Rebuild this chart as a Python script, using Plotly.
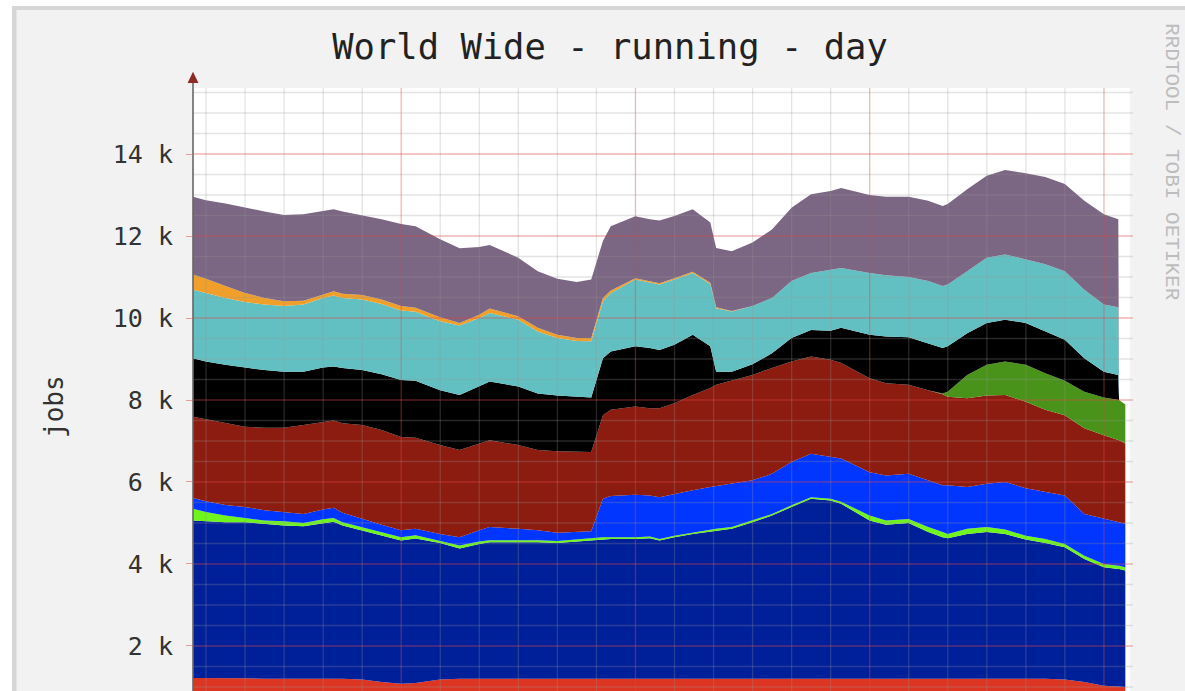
import plotly.graph_objects as go

# ---- data (hours from the left edge of the day graph, values in jobs) ----
hours = [0.0, 0.33, 0.83, 1.33, 1.83, 2.33, 2.83, 3.33, 3.6, 3.83, 4.33, 4.83, 5.33, 5.7,
         6.33, 6.83, 7.33, 7.6, 8.33, 8.83, 9.33, 9.83, 10.2, 10.5, 10.7, 11.33, 11.7, 11.95,
         12.33, 12.8, 13.25, 13.4, 13.8, 14.33, 14.83, 15.33, 15.83, 16.33, 16.6, 17.33, 17.75,
         18.33, 18.83, 19.2, 19.33, 19.83, 20.33, 20.8, 21.33, 21.83, 22.33, 22.83, 23.33,
         23.7, 23.72, 23.88]

red_base = [1220, 1220, 1210, 1210, 1200, 1200, 1200, 1200, 1200, 1200, 1180, 1120, 1080, 1100,
            1180, 1200, 1200, 1200, 1200, 1200, 1200, 1200, 1200, 1200, 1200, 1200, 1200, 1200,
            1200, 1200, 1200, 1200, 1200, 1200, 1200, 1200, 1200, 1200, 1200, 1200, 1200,
            1200, 1200, 1200, 1200, 1200, 1200, 1200, 1200, 1200, 1180, 1120, 1030,
            1000, 1000, 1000]

navy = [3840, 3820, 3810, 3810, 3780, 3740, 3720, 3800, 3830, 3740, 3640, 3570, 3490, 3520,
        3330, 3180, 3290, 3330, 3330, 3330, 3310, 3350, 3370, 3410, 3410, 3410, 3430, 3370,
        3450, 3530, 3590, 3620, 3660, 3820, 3980, 4190, 4390, 4350, 4270, 3860, 3760,
        3800, 3580, 3450, 3430, 3530, 3580, 3530, 3400, 3310, 3230, 3000, 2890,
        2880, 2880, 2840]

lime = [290, 230, 160, 100, 80, 100, 80, 90, 90, 80, 80, 90, 80, 80,
        60, 70, 60, 50, 50, 50, 50, 50, 50, 40, 40, 40, 40, 40,
        40, 40, 40, 40, 40, 40, 40, 40, 40, 40, 50, 120, 100,
        100, 120, 130, 100, 130, 120, 110, 90, 100, 80, 80, 80,
        80, 80, 80]

blue = [260, 260, 260, 270, 250, 230, 220, 240, 250, 230, 200, 180, 170, 160,
        160, 200, 270, 320, 280, 240, 200, 180, 180, 940, 1010, 1040, 1000, 1020,
        1020, 1030, 1050, 1040, 1060, 980, 980, 1060, 1060, 1020, 1050, 1060, 1100,
        1100, 1140, 1140, 1190, 1020, 1060, 1160, 1160, 1150, 1180, 1020, 1100,
        1060, 1060, 1060]

dark_red = [1980, 2000, 1990, 1960, 2010, 2050, 2170, 2140, 2130, 2180, 2290, 2310, 2280, 2220,
            2170, 2130, 2120, 2120, 2040, 1960, 1990, 1950, 1930, 2040, 2100, 2150, 2130, 2170,
            2210, 2320, 2410, 2470, 2510, 2570, 2580, 2450, 2370, 2370, 2330, 2290, 2250,
            2170, 2200, 2220, 2160, 2160, 2150, 2120, 2110, 2000, 1960, 2090, 2040,
            2000, 2000, 1960]

green = [0, 0, 0, 0, 0, 0, 0, 0, 0, 0, 0, 0, 0, 0,
         0, 0, 0, 0, 0, 0, 0, 0, 0, 0, 0, 0, 0, 0,
         0, 0, 0, 0, 0, 0, 0, 0, 0, 0, 0, 0, 0,
         0, 0, 20, 120, 570, 750, 820, 900, 890, 840, 890, 920,
         980, 980, 950]

black = [1430, 1410, 1430, 1440, 1410, 1370, 1300, 1320, 1320, 1350, 1340, 1360, 1390, 1390,
         1340, 1340, 1390, 1430, 1430, 1380, 1360, 1350, 1330, 1390, 1420, 1470, 1470, 1420,
         1430, 1470, 1020, 320, 220, 260, 360, 570, 650, 710, 860, 1060, 1140,
         1160, 1150, 1110, 1110, 1020, 1020, 1020, 1020, 1020, 1000, 820, 630,
         610, 0, 0]

teal = [1670, 1670, 1630, 1600, 1600, 1600, 1640, 1700, 1730, 1710, 1720, 1710, 1690, 1680,
        1680, 1700, 1670, 1670, 1630, 1510, 1400, 1360, 1370, 1390, 1430, 1630, 1590, 1600,
        1590, 1510, 1520, 1550, 1470, 1420, 1350, 1390, 1390, 1490, 1460, 1510, 1490,
        1470, 1510, 1510, 1510, 1510, 1590, 1590, 1550, 1640, 1670, 1670, 1640,
        1650, 0, 0]

orange = [370, 350, 290, 220, 160, 120, 90, 80, 100, 100, 110, 110, 110, 100,
          100, 60, 80, 110, 80, 90, 80, 70, 80, 80, 60, 30, 30, 30,
          30, 30, 30, 20, 10, 0, 0, 0, 0, 0, 0, 0, 0,
          0, 0, 0, 0, 0, 0, 0, 0, 0, 0, 0, 0,
          0, 0, 0]

purple = [1900, 1910, 2010, 2080, 2110, 2100, 2110, 2040, 2000, 2010, 1950, 1960, 2000, 1990,
          1900, 1820, 1650, 1550, 1430, 1380, 1370, 1370, 1430, 1390, 1570, 1510, 1520, 1530,
          1520, 1520, 1470, 1450, 1460, 1550, 1670, 1790, 1920, 1920, 1950, 1900, 1920,
          1960, 1960, 1950, 1960, 2000, 2000, 2060, 2100, 2130, 2130, 2170, 2200,
          2150, 0, 0]

y_tick_vals = [2000, 4000, 6000, 8000, 10000, 12000, 14000]
y_tick_text = ["2 k", "4 k", "6 k", "8 k", "10 k", "12 k", "14 k"]

layers = [
    ("red", red_base, "#DC3522"),
    ("navy", navy, "#00209A"),
    ("lime", lime, "#6EF51E"),
    ("blue", blue, "#0036FF"),
    ("dark red", dark_red, "#8D1C10"),
    ("green", green, "#4A931A"),
    ("black", black, "#000000"),
    ("teal", teal, "#63C0C2"),
    ("orange", orange, "#F0A02A"),
    ("purple", purple, "#7B6683"),
]

MONO = "DejaVu Sans Mono"

fig = go.Figure()
for name, vals, col in layers:
    fig.add_trace(go.Scatter(
        x=hours, y=vals, name=name, mode="lines", stackgroup="all",
        line=dict(width=0, color=col), fillcolor=col, hoverinfo="skip",
    ))

# ---- rrdtool style grid drawn over the areas ----
shapes = []
for n in range(24):
    h = 1.0 / 3.0 + n
    major = (n % 6 == 5)
    shapes.append(dict(type="line", xref="x", yref="paper", x0=h, x1=h, y0=0, y1=1,
                       layer="above",
                       line=dict(color="rgba(220,70,70,0.40)" if major else "rgba(150,150,150,0.26)",
                                 width=1.3)))
for v in range(1000, 15600, 500):
    major = (v % 2000 == 0)
    shapes.append(dict(type="line", xref="paper", yref="y", x0=0, x1=1.003, y0=v, y1=v,
                       layer="above",
                       line=dict(color="rgba(220,70,70,0.40)" if major else "rgba(150,150,150,0.26)",
                                 width=1.3)))

# y axis line + arrow
shapes.append(dict(type="line", xref="paper", yref="paper", x0=0, x1=0, y0=0, y1=1.012,
                   layer="above", line=dict(color="#666666", width=1.6)))
shapes.append(dict(type="path", xref="paper", yref="paper", layer="above",
                   path="M -0.0058,1.0083 L 0.0058,1.0083 L 0,1.0270 Z",
                   fillcolor="#8E2A22", line=dict(width=0)))

# outer frame (white strip + gray border, top and left)
PX = 937.0
PY = 603.0
def fx(px):
    return (px - 193) / PX
def fy(py):
    return (691 - py) / PY
shapes.append(dict(type="rect", xref="paper", yref="paper", x0=fx(-5), x1=fx(1190),
                   y0=fy(6), y1=fy(-5), fillcolor="white", line=dict(width=0), layer="above"))
shapes.append(dict(type="rect", xref="paper", yref="paper", x0=fx(-5), x1=fx(12),
                   y0=fy(700), y1=fy(-5), fillcolor="white", line=dict(width=0), layer="above"))
shapes.append(dict(type="rect", xref="paper", yref="paper", x0=fx(12), x1=fx(1190),
                   y0=fy(10), y1=fy(6), fillcolor="#D6D6D6", line=dict(width=0), layer="above"))
shapes.append(dict(type="rect", xref="paper", yref="paper", x0=fx(12), x1=fx(16.5),
                   y0=fy(700), y1=fy(6), fillcolor="#D6D6D6", line=dict(width=0), layer="above"))

annotations = [
    dict(text="jobs", xref="paper", yref="paper", x=fx(54), y=fy(407), showarrow=False,
         textangle=-90, font=dict(family=MONO, size=26, color="#333333"),
         xanchor="center", yanchor="middle"),
    dict(text="RRDTOOL / TOBI OETIKER", xref="paper", yref="paper", x=fx(1172), y=fy(162),
         showarrow=False, textangle=90,
         font=dict(family="Liberation Mono", size=21, color="#BDBDBD"),
         xanchor="center", yanchor="middle"),
]

fig.update_layout(
    width=1185, height=691,
    margin=dict(l=193, r=55, t=88, b=0, pad=0),
    paper_bgcolor="#F2F2F2",
    plot_bgcolor="#FFFFFF",
    showlegend=False,
    hovermode=False,
    title=dict(text="World Wide - running - day", x=610 / 1185, xref="container",
               y=1 - 47 / 691, yref="container", xanchor="center", yanchor="middle",
               font=dict(family=MONO, size=35.5, color="#222222")),
    xaxis=dict(range=[0, 24], showgrid=False, zeroline=False, showticklabels=False,
               showline=False, ticks=""),
    yaxis=dict(range=[902, 15610], showgrid=False, zeroline=False, showline=False,
               tickmode="array", tickvals=y_tick_vals, ticktext=y_tick_text,
               ticks="outside", ticklen=6, tickcolor="rgba(220,70,70,0.5)", tickwidth=1.3,
               ticklabelstandoff=8,
               tickfont=dict(family=MONO, size=25, color="#333333")),
    shapes=shapes,
    annotations=annotations,
)

fig.write_html("out.html", config={"displayModeBar": False},
               post_script="document.body.style.margin='0';document.body.style.overflow='hidden';")
